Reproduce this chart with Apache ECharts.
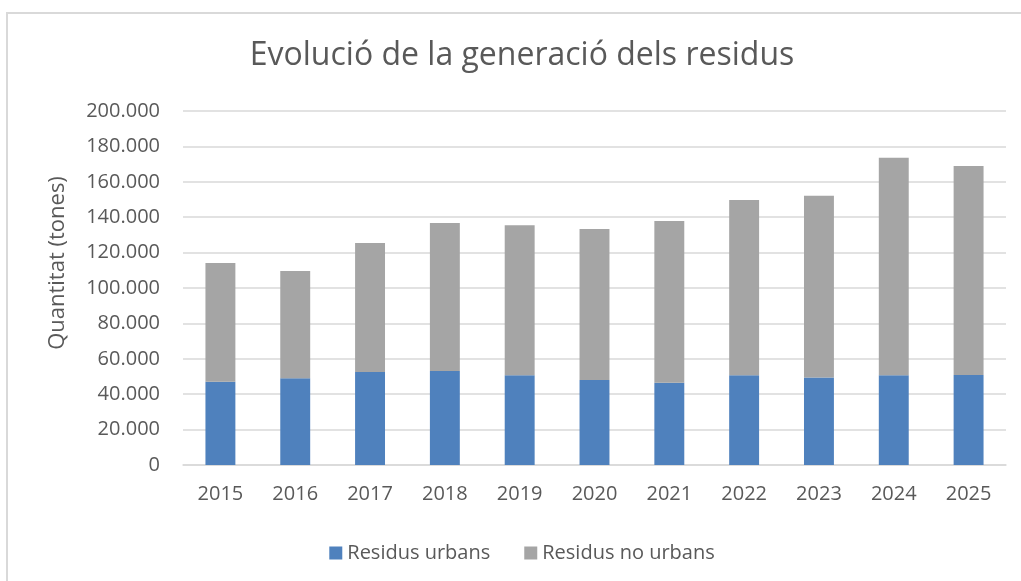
<!DOCTYPE html>
<html>
<head>
<meta charset="utf-8">
<script src="https://cdn.jsdelivr.net/npm/echarts@6/dist/echarts.min.js"></script>
<style>
  html, body { margin: 0; padding: 0; background: #fff; overflow: hidden; }
  #frame { position: absolute; left: 6px; top: 12px; width: 1100px; height: 700px; border: 2px solid #d9d9d9; }
  #chart { position: absolute; left: 0; top: 0; width: 1044px; height: 581px; }
</style>
</head>
<body>
<div id="frame"></div>
<div id="chart"></div>
<script>
// data (tones)
var years = ['2015', '2016', '2017', '2018', '2019', '2020', '2021', '2022', '2023', '2024', '2025'];
var urbans = [47100, 49000, 52500, 53100, 50700, 48000, 46500, 50700, 49500, 50700, 50800];
var noUrbans = [67000, 60600, 72900, 83600, 84700, 85300, 91400, 99000, 102600, 122900, 118100];

var textColor = '#595959';
var font = '"Open Sans", "Noto Sans", sans-serif';

var chart = echarts.init(document.getElementById('chart'));

//thousands with a dot, like 200.000
function fmt(v) {
  return String(v).replace(/\B(?=(\d{3})+(?!\d))/g, '.');
}

option = {
  animation: false,
  title: {
    text: 'Evolució de la generació dels residus',
    left: 'center',
    top: 35,
    textStyle: {
      color: textColor,
      fontFamily: font,
      fontWeight: 'normal',
      fontSize: 32
    }
  },
  legend: {
    bottom: 13,
    left: 'center',
    itemWidth: 13,
    itemHeight: 13,
    itemGap: 34,
    icon: 'rect',
    textStyle: {
      color: textColor,
      fontFamily: font,
      fontSize: 20
    },
    data: ['Residus urbans', 'Residus no urbans']
  },
  grid: {
    left: 183,
    right: 38,
    top: 111,
    bottom: 116
  },
  xAxis: {
    type: 'category',
    data: years,
    axisLine: { lineStyle: { color: '#d9d9d9', width: 1.5 } },
    axisTick: { show: false },
    axisLabel: {
      color: textColor,
      fontFamily: font,
      fontSize: 20,
      margin: 19
    }
  },
  yAxis: {
    type: 'value',
    min: 0,
    max: 200000,
    interval: 20000,
    name: 'Quantitat (tones)',
    nameLocation: 'middle',
    nameGap: 114,
    nameTextStyle: {
      color: textColor,
      fontFamily: font,
      fontSize: 22,
      padding: [0, 0, 0, 50]
    },
    axisLine: { show: false },
    axisTick: { show: false },
    splitLine: { lineStyle: { color: '#d9d9d9', width: 1.5 } },
    axisLabel: {
      color: textColor,
      fontFamily: font,
      fontSize: 20,
      margin: 23,
      formatter: fmt
    }
  },
  series: [
    {
      name: 'Residus urbans',
      type: 'bar',
      stack: 'total',
      barWidth: '40%',
      itemStyle: { color: '#4f81bd' },
      data: urbans
    },
    {
      name: 'Residus no urbans',
      type: 'bar',
      stack: 'total',
      barWidth: '40%',
      itemStyle: { color: '#a5a5a5' },
      data: noUrbans
    }
  ]
};

chart.setOption(option);
</script>
</body>
</html>
